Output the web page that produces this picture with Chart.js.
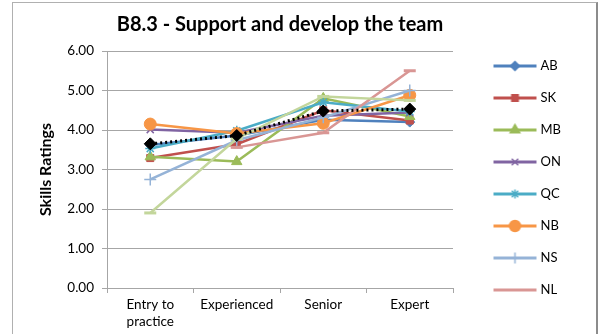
<!DOCTYPE html>
<html><head><meta charset="utf-8">
<script src="https://cdn.jsdelivr.net/npm/chart.js@4/dist/chart.umd.min.js"></script>
<style>
html,body{margin:0;padding:0;background:#fff;}
#wrap{position:relative;width:600px;height:334px;overflow:hidden;}
#frame{position:absolute;left:12px;top:2px;width:586px;height:400px;border:1px solid #b0b0b0;border-right:2px solid #8c8c8c;box-sizing:border-box;}
canvas{position:absolute;left:0;top:0;}
</style></head><body>
<div id="wrap"><div id="frame"></div><canvas id="c" width="600" height="334"></canvas></div>
<script>
const categories = [['Entry to', 'practice'], 'Experienced', 'Senior', 'Expert'];
const seriesNames = ['AB', 'SK', 'MB', 'ON', 'QC', 'NB', 'NS', 'NL', 'PE', 'Average'];
const AB  = [3.62, 3.86, 4.26, 4.20];
const SK  = [3.29, 3.64, 4.50, 4.24];
const MB  = [3.32, 3.20, 4.80, 4.34];
const ON  = [4.01, 3.93, 4.36, 4.44];
const QC  = [3.53, 3.98, 4.70, 4.47];
const NB  = [4.15, 3.91, 4.17, 4.88];
const NS  = [2.75, 3.74, 4.32, 5.00];
const NL  = [null, 3.56, 3.93, 5.50];
const PE  = [1.90, 3.78, 4.85, 4.75];
const AVG = [3.65, 3.86, 4.48, 4.53];
const yTicks = [0, 1, 2, 3, 4, 5, 6];

const values = [AB, SK, MB, ON, QC, NB, NS, NL, PE, AVG];
const colors = ['#4F81BD', '#C0504D', '#9BBB59', '#8064A2', '#4BACC6', '#F79646', '#95B3D7', '#D99694', '#C3D69B', '#000000'];
const styles = ['rectRot', 'rect', 'triangle', 'crossRot', 'star', 'circle', 'cross', 'line', 'line', 'rectRot'];
const radii  = [5, 5, 6, 5, 5, 6, 6, 6, 6, 6];
const FONT = 'Lato';

function legendImg(i) {
  const c = document.createElement('canvas');
  c.width = 50; c.height = 16;
  const g = c.getContext('2d');
  g.strokeStyle = colors[i]; g.lineWidth = 3;
  g.beginPath(); g.moveTo(6, 8); g.lineTo(49, 8); g.stroke();
  if (styles[i] !== 'line') {
    g.fillStyle = colors[i]; g.strokeStyle = colors[i]; g.lineWidth = 1.5;
    try {
      Chart.helpers.drawPoint(g, {pointStyle: styles[i], radius: radii[i] - 0.5, borderWidth: 1.5, rotation: 0}, 27.5, 8);
    } catch (e) {
      g.beginPath(); g.arc(27.5, 8, 4, 0, Math.PI * 2); g.fill();
    }
  }
  return c;
}
const legendImages = seriesNames.map((n, i) => legendImg(i));

const datasets = seriesNames.map((name, i) => ({
  label: name,
  data: values[i],
  borderColor: colors[i],
  backgroundColor: colors[i],
  borderWidth: i === 9 ? 3 : 2.5,
  borderDash: i === 9 ? [2, 3] : [],
  pointStyle: styles[i],
  pointRadius: radii[i],
  pointHoverRadius: radii[i],
  pointBorderColor: colors[i],
  pointBackgroundColor: colors[i],
  pointBorderWidth: (styles[i] === 'crossRot' || styles[i] === 'star' || styles[i] === 'cross') ? 1.5 : (styles[i] === 'line' ? 3 : 1),
  tension: 0,
  order: -i
}));

new Chart(document.getElementById('c'), {
  type: 'line',
  data: { labels: categories, datasets },
  options: {
    responsive: false,
    animation: false,
    devicePixelRatio: 1,
    layout: { padding: { left: 12, right: 36, top: 4, bottom: 0 } },
    plugins: {
      title: {
        display: true,
        text: 'B8.3 - Support and develop the team',
        fullSize: false,
        color: '#000',
        font: { family: FONT, size: 20, weight: 'bold' },
        padding: { top: 9, bottom: 14 }
      },
      legend: {
        position: 'right',
        align: 'start',
        title: { display: true, text: ' ', font: { family: FONT, size: 10 }, padding: { top: 0, bottom: 24.5 } },
        labels: {
          usePointStyle: true,
          pointStyleWidth: 43,
          padding: 19,
          color: '#000',
          font: { family: FONT, size: 13 },
          generateLabels(chart) {
            const items = Chart.defaults.plugins.legend.labels.generateLabels(chart);
            items.forEach(it => { it.pointStyle = legendImages[it.datasetIndex]; it.rotation = 0; });
            return items;
          },
          filter: it => it.datasetIndex < 8,
          sort: (a, b) => a.datasetIndex - b.datasetIndex
        }
      },
      tooltip: { enabled: false }
    },
    scales: {
      x: {
        offset: true,
        afterFit: s => { s.height = 46; },
        grid: { display: true, offset: true, drawOnChartArea: false, drawTicks: true, tickLength: 5, color: '#a6a6a6' },
        border: { display: true, color: '#a6a6a6' },
        ticks: { color: '#000', font: { family: FONT, size: 13.5 }, padding: 4, maxRotation: 0, autoSkip: false }
      },
      y: {
        min: 0, max: 6,
        afterFit: s => { s.width = 95; },
        afterBuildTicks: s => { s.ticks = yTicks.map(v => ({ value: v })); },
        grid: { color: '#a6a6a6', tickLength: 5 },
        border: { display: true, color: '#a6a6a6' },
        ticks: { color: '#000', font: { family: FONT, size: 13.5 }, padding: 8, callback: v => Number(v).toFixed(2) },
        title: { display: true, text: 'Skills Ratings', color: '#000', font: { family: FONT, size: 16, weight: 'bold' }, padding: { top: 24, bottom: 0 } }
      },
      gap: {
        position: 'right',
        display: true,
        afterFit: s => { s.width = 19; },
        grid: { display: false },
        border: { display: false },
        ticks: { display: false }
      }
    }
  }
});
</script>
</body></html>
